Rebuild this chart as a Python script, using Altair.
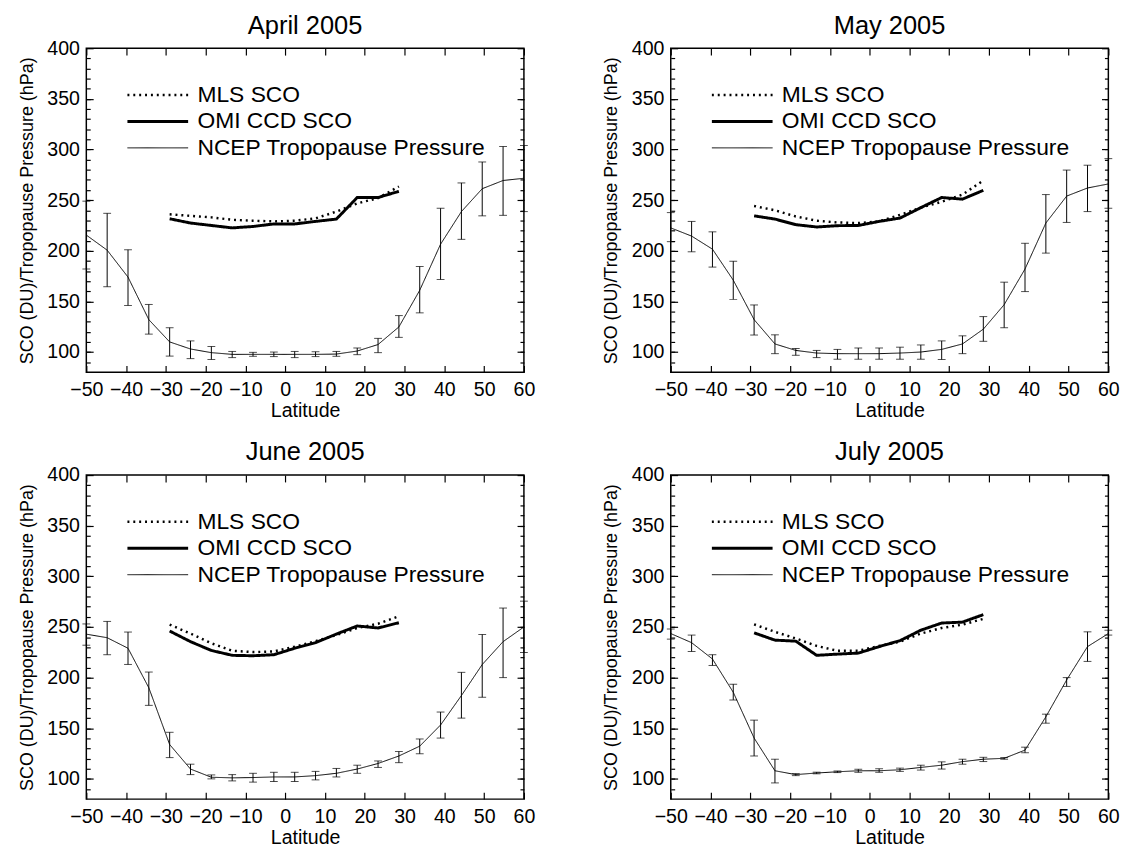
import altair as alt
import pandas as pd

FONT = "Liberation Sans"
W, H = 447, 331

lat = [-50.0, -44.76, -39.52, -34.29, -29.05, -23.81, -18.57, -13.33, -8.10, -2.86, 2.38,
       7.62, 12.86, 18.10, 23.33, 28.57, 33.81, 39.05, 44.29, 49.52, 54.76, 60.0]
sco_lat = [-29.05, -23.81, -18.57, -13.33, -8.10, -2.86, 2.38, 7.62, 12.86, 18.10, 23.33, 28.57]

x_ticks = [-50, -40, -30, -20, -10, 0, 10, 20, 30, 40, 50, 60]
y_major = [100, 150, 200, 250, 300, 350, 400]
y_minor = [90, 100, 110, 120, 130, 140, 150, 160, 170, 180, 190, 200, 210, 220, 230, 240,
           250, 260, 270, 280, 290, 300, 310, 320, 330, 340, 350, 360, 370, 380, 390]

series_order = ["MLS SCO", "OMI CCD SCO", "NCEP Tropopause Pressure"]

ncep_apr = [215.5, 200.6, 174, 132, 110, 103, 99.4, 97.7, 97.7, 97.7, 97.7, 97.7, 98, 101, 107.4,
            124.8, 161, 206.5, 238.7, 261.3, 269.4, 271.6]
lo_apr = [182, 164.5, 146, 117.7, 96, 93.5, 92.6, 94.5, 95.8, 95.5, 94.5, 95.5, 95.8, 97.4, 99.4,
          114.5, 138.7, 171.6, 211.3, 234.5, 235, 238.7]
hi_apr = [249, 237, 201, 147, 124, 111, 105.5, 100.6, 99.7, 100, 100.6, 100.3, 100.6, 104, 113.5,
          136, 184.5, 242, 267, 287.7, 303, 304]
mls_apr = [236, 234.5, 233, 230.6, 229.7, 229, 229.7, 232, 238.7, 246.8, 252, 263.5]
omi_apr = [231.6, 227.4, 225, 222.6, 224, 226.5, 226.5, 229, 231.3, 252.6, 252.6, 258.7]

ncep_may = [222.6, 214.5, 201.6, 171, 132, 108, 101.6, 99, 98.4, 98.4, 98.4, 99, 100, 102.6, 108,
            122.6, 146.8, 182, 227.4, 254, 262, 266]
lo_may = [209, 199, 183.9, 152, 116.8, 98.4, 96.8, 94.5, 92.9, 92.9, 92.9, 92.9, 92.9, 92.6, 98.4,
          110.6, 124, 159.7, 197.7, 228, 238.7, 242]
hi_may = [237.7, 229, 218.7, 189.7, 146.5, 117, 103.5, 101.6, 102.6, 104, 104, 104.8, 107, 111, 116,
          135, 169, 207.4, 255.5, 279.7, 284.5, 291]
mls_may = [244.2, 240, 233.9, 229.7, 228, 227.4, 229, 235.5, 242.6, 248.4, 255.5, 269.4]
omi_may = [234.5, 231.3, 225.8, 223.5, 224.8, 225, 229, 232.3, 242.6, 252.6, 251, 259.7]

ncep_jun = [242.9, 239.4, 229, 190, 133.9, 109.7, 101.6, 101, 101.3, 101.9, 101.9, 103.2, 105.5,
            109.7, 115.2, 122.6, 132.3, 153.2, 182.3, 212.9, 235.5, 250]
lo_jun = [232, 222.6, 213, 172.6, 121, 104.2, 100, 98, 96.8, 97.4, 97.4, 99, 101.9, 105.5, 111.3,
          116, 124.8, 140.3, 160, 180.6, 200, 224.8]
hi_jun = [253, 255.5, 245, 205.5, 146, 114.5, 103.9, 104.2, 105.5, 106.5, 106.5, 107.4, 110.3,
          113.5, 117.7, 127, 139.4, 166, 205.2, 242.6, 268.7, 275.5]
mls_jun = [252.3, 243.5, 233.9, 226.5, 225.2, 225.8, 230.6, 236, 242, 249, 253.2, 260.6]
omi_jun = [246, 235.5, 226.8, 222, 221.6, 222.6, 229, 234.5, 243, 251, 249, 254.2]

ncep_jul = [243.5, 234.5, 218.4, 185.5, 140.3, 108, 104.2, 105.8, 107, 108, 108, 109, 111.3, 113.5,
            117, 119.4, 120.3, 128.4, 161.3, 197.7, 230.6, 243.5]
lo_jul = [238, 225.8, 212, 178, 122.6, 96, 103.2, 105, 106.2, 106.5, 106.5, 107.4, 108.7, 109.7,
          114.5, 117.1, 119.4, 125.8, 155, 191.3, 216, 242]
hi_jul = [248, 242, 222.6, 193.5, 158, 119.4, 105.2, 106.6, 107.8, 109.5, 110, 110.6, 113.5, 116.8,
          119.4, 121.3, 121, 131.3, 163.9, 200, 245.2, 246.8]
mls_jul = [252.6, 245.2, 238.7, 231.3, 226.5, 226.5, 231.3, 235.5, 243.5, 249, 252.3, 258]
omi_jul = [244.2, 237, 236, 222, 223.2, 224.2, 230.6, 236.5, 246.8, 253.9, 254.8, 262.2]

xs = alt.Scale(domain=[-50, 60], nice=False, zero=False)
ys = alt.Scale(domain=[80, 400], nice=False, zero=False)


def tick_axis(orient, values, size):
    # inward-pointing tick marks: the axis is pulled inside the frame by its own tick length
    return alt.Axis(orient=orient, values=values, ticks=True, tickSize=size, tickColor="black",
                    tickWidth=1.2, tickOpacity=1, labels=False, domain=False, grid=False,
                    title=None, offset=-size)


x_labels = alt.Axis(orient="bottom", values=x_ticks, title="Latitude", ticks=False, domain=False,
                    grid=False, labelPadding=8, labelFontSize=20, titleFontSize=20,
                    titlePadding=1, labelFlush=False)
y_labels = alt.Axis(orient="left", values=y_major, title="SCO (DU)/Tropopause Pressure (hPa)",
                    ticks=False, domain=False, grid=False, labelPadding=7, labelFontSize=20,
                    titleFontSize=18.3, titlePadding=11, labelFlush=False)

dash_scale = alt.Scale(domain=series_order, range=[[2, 4], [1, 0], [1, 0]])
width_scale = alt.Scale(type="ordinal", domain=series_order, range=[2.5, 3, 1])


def panel(title, ncep, lo, hi, mls, omi):
    err = pd.DataFrame({"lat": lat, "lo": lo, "hi": hi})
    sco = pd.DataFrame({
        "lat": sco_lat + sco_lat,
        "value": mls + omi,
        "series": [series_order[0]] * len(mls) + [series_order[1]] * len(omi),
    })
    trop = pd.DataFrame({"lat": lat, "value": ncep, "series": [series_order[2]] * len(ncep)})

    rules = alt.Chart(err).mark_rule(color="black", strokeWidth=1).encode(
        x=alt.X("lat:Q", scale=xs, axis=x_labels),
        y=alt.Y("lo:Q", scale=ys, axis=y_labels), y2="hi:Q")
    cap_lo = alt.Chart(err).mark_tick(orient="horizontal", size=8, thickness=1, color="black").encode(
        x=alt.X("lat:Q", scale=xs, axis=tick_axis("bottom", x_ticks, 7)),
        y=alt.Y("lo:Q", scale=ys, axis=tick_axis("left", y_major, 7)))
    cap_hi = alt.Chart(err).mark_tick(orient="horizontal", size=8, thickness=1, color="black").encode(
        x=alt.X("lat:Q", scale=xs, axis=tick_axis("top", x_ticks, 7)),
        y=alt.Y("hi:Q", scale=ys, axis=tick_axis("left", y_minor, 4)))
    legend = alt.Legend(title=None)
    sco_lines = alt.Chart(sco).mark_line(color="black").encode(
        x=alt.X("lat:Q", scale=xs, axis=None),
        y=alt.Y("value:Q", scale=ys, axis=tick_axis("right", y_major, 7)),
        strokeDash=alt.StrokeDash("series:N", scale=dash_scale, legend=legend),
        strokeWidth=alt.StrokeWidth("series:N", scale=width_scale, legend=legend),
    )
    trop_line = alt.Chart(trop).mark_line(color="black").encode(
        x=alt.X("lat:Q", scale=xs, axis=None),
        y=alt.Y("value:Q", scale=ys, axis=tick_axis("right", y_minor, 4)),
        strokeDash=alt.StrokeDash("series:N", scale=dash_scale, legend=legend),
        strokeWidth=alt.StrokeWidth("series:N", scale=width_scale, legend=legend),
    )
    lay = alt.layer(rules, cap_lo, cap_hi, sco_lines, trop_line).resolve_axis(
        x="independent", y="independent")
    return lay.properties(
        width=W, height=H,
        title=alt.TitleParams(title, fontSize=26, font=FONT, fontWeight="normal",
                              color="black", offset=0))


chart = alt.concat(
    panel("April 2005", ncep_apr, lo_apr, hi_apr, mls_apr, omi_apr),
    panel("May 2005", ncep_may, lo_may, hi_may, mls_may, omi_may),
    panel("June 2005", ncep_jun, lo_jun, hi_jun, mls_jun, omi_jun),
    panel("July 2005", ncep_jul, lo_jul, hi_jul, mls_jul, omi_jul),
    columns=2, spacing={"row": 18, "column": 66},
).resolve_scale(strokeDash="independent", strokeWidth="independent").configure_view(
    stroke="black", strokeWidth=1.5
).configure_axis(
    labelFont=FONT, titleFont=FONT, labelColor="black", titleColor="black",
    titleFontWeight="normal"
).configure_legend(
    orient="none", legendX=40.5, legendY=34.5, symbolType="stroke", symbolSize=3844,
    symbolStrokeColor="black", labelFont=FONT, labelFontSize=23.3, labelColor="black",
    clipHeight=26.5, rowPadding=0, padding=0, labelOffset=8, symbolOffset=0, labelLimit=0
).properties(
    background="white",
    padding={"left": 8, "top": -5, "right": 5, "bottom": 0},
)

chart.save("out.html", embed_options={"renderer": "svg", "actions": False})
